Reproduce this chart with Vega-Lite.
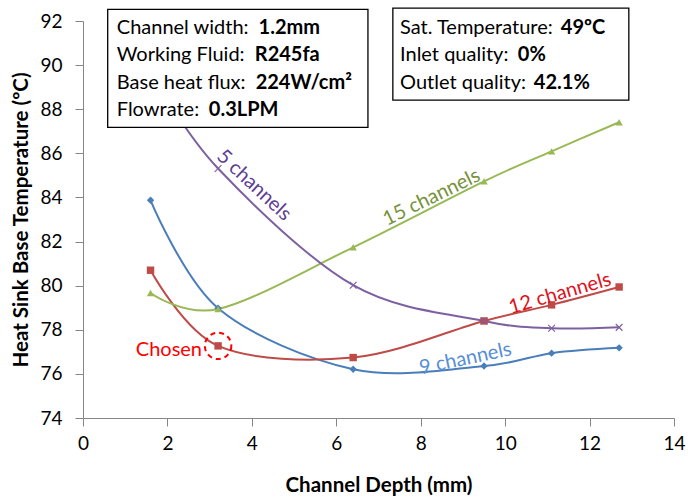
{
  "$schema": "https://vega.github.io/schema/vega-lite/v6.json",
  "autosize": {"type": "none"},
  "padding": {"left": 83, "top": 21, "right": 14, "bottom": 83},
  "width": 591,
  "height": 397,
  "background": "white",
  "config": {
    "view": {"stroke": null},
    "font": "Lato",
    "axis": {
      "grid": false,
      "labelFlush": false,
      "domainColor": "#868686",
      "tickColor": "#868686",
      "tickSize": 8,
      "labelColor": "#000000",
      "labelFont": "Lato",
      "labelFontSize": 19,
      "titleFont": "Lato",
      "titleFontSize": 20.5,
      "titleFontWeight": "bold",
      "titleColor": "#000000"
    }
  },
  "datasets": {
    "series": [
      {"series": "9 channels", "depth": 1.6, "temp": 83.87},
      {"series": "9 channels", "depth": 3.2, "temp": 78.98},
      {"series": "9 channels", "depth": 6.4, "temp": 76.21},
      {"series": "9 channels", "depth": 9.5, "temp": 76.36},
      {"series": "9 channels", "depth": 11.1, "temp": 76.94},
      {"series": "9 channels", "depth": 12.7, "temp": 77.18},
      {"series": "12 channels", "depth": 1.6, "temp": 80.70},
      {"series": "12 channels", "depth": 3.2, "temp": 77.27},
      {"series": "12 channels", "depth": 6.4, "temp": 76.74},
      {"series": "12 channels", "depth": 9.5, "temp": 78.40},
      {"series": "12 channels", "depth": 11.1, "temp": 79.13},
      {"series": "12 channels", "depth": 12.7, "temp": 79.94},
      {"series": "15 channels", "depth": 1.6, "temp": 79.67},
      {"series": "15 channels", "depth": 3.2, "temp": 78.94},
      {"series": "15 channels", "depth": 6.4, "temp": 81.74},
      {"series": "15 channels", "depth": 9.5, "temp": 84.73},
      {"series": "15 channels", "depth": 11.1, "temp": 86.09},
      {"series": "15 channels", "depth": 12.7, "temp": 87.41},
      {"series": "5 channels", "depth": 1.6, "temp": 89.7},
      {"series": "5 channels", "depth": 3.2, "temp": 85.31},
      {"series": "5 channels", "depth": 6.4, "temp": 80.02},
      {"series": "5 channels", "depth": 9.5, "temp": 78.40},
      {"series": "5 channels", "depth": 11.1, "temp": 78.07},
      {"series": "5 channels", "depth": 12.7, "temp": 78.11}
    ],
    "boxes": [
      {"x1": 0.585, "x2": 6.75, "y1": 92.53, "y2": 87.18},
      {"x1": 7.34, "x2": 12.93, "y1": 92.58, "y2": 88.41}
    ],
    "boxRegular": [
      {"x": 0.8, "y": 91.67, "t": "Channel width:"},
      {"x": 0.8, "y": 90.45, "t": "Working Fluid:"},
      {"x": 0.8, "y": 89.18, "t": "Base heat flux:"},
      {"x": 0.8, "y": 87.95, "t": "Flowrate:"},
      {"x": 7.51, "y": 91.67, "t": "Sat. Temperature:"},
      {"x": 7.51, "y": 90.45, "t": "Inlet quality:"},
      {"x": 7.51, "y": 89.18, "t": "Outlet quality:"}
    ],
    "boxBold": [
      {"x": 4.16, "y": 91.67, "t": "1.2mm"},
      {"x": 4.07, "y": 90.45, "t": "R245fa"},
      {"x": 4.09, "y": 89.18, "t": "224W/cm²"},
      {"x": 2.98, "y": 87.95, "t": "0.3LPM"},
      {"x": 11.32, "y": 91.67, "t": "49ºC"},
      {"x": 10.3, "y": 90.45, "t": "0%"},
      {"x": 10.68, "y": 89.18, "t": "42.1%"}
    ]
  },
  "layer": [
    {
      "data": {"name": "series"},
      "mark": {"type": "line", "interpolate": "cardinal", "strokeWidth": 2},
      "encoding": {
        "x": {"field": "depth", "type": "quantitative",
              "scale": {"domain": [0, 14], "nice": false},
              "axis": {"values": [0, 2, 4, 6, 8, 10, 12, 14], "title": "Channel Depth (mm)", "labelPadding": 8, "titlePadding": 22}},
        "y": {"field": "temp", "type": "quantitative",
              "scale": {"domain": [74, 92], "nice": false, "zero": false},
              "axis": {"values": [74, 76, 78, 80, 82, 84, 86, 88, 90, 92], "title": "Heat Sink Base Temperature (ºC)", "labelPadding": 13, "titlePadding": 8}},
        "color": {"field": "series", "type": "nominal", "legend": null,
                  "scale": {"domain": ["9 channels", "12 channels", "15 channels", "5 channels"],
                            "range": ["#4A7EBB", "#BE4B48", "#98B954", "#7D60A0"]}},
        "detail": {"field": "series"}
      }
    },
    {
      "data": {"name": "series"},
      "transform": [{"filter": "datum.series !== '5 channels'"}],
      "mark": {"type": "point", "filled": true, "opacity": 1, "size": 55},
      "encoding": {
        "x": {"field": "depth", "type": "quantitative"},
        "y": {"field": "temp", "type": "quantitative"},
        "color": {"field": "series", "type": "nominal", "legend": null},
        "shape": {"field": "series", "type": "nominal", "legend": null,
                  "scale": {"domain": ["9 channels", "12 channels", "15 channels"],
                            "range": ["diamond", "square", "triangle-up"]}}
      }
    },
    {
      "data": {"name": "series"},
      "transform": [{"filter": "datum.series === '5 channels'"}],
      "mark": {"type": "point", "filled": false, "opacity": 1, "size": 45, "strokeWidth": 1.2,
               "shape": "M-1,-1L1,1M-1,1L1,-1", "color": "#7D60A0"},
      "encoding": {
        "x": {"field": "depth", "type": "quantitative"},
        "y": {"field": "temp", "type": "quantitative"}
      }
    },
    {
      "data": {"values": [{"depth": 3.2, "temp": 77.27}]},
      "mark": {"type": "point", "shape": "circle", "filled": false, "size": 700,
               "stroke": "#FF0000", "strokeWidth": 2, "strokeDash": [5, 4], "opacity": 1},
      "encoding": {
        "x": {"field": "depth", "type": "quantitative"},
        "y": {"field": "temp", "type": "quantitative"}
      }
    },
    {
      "data": {"name": "boxes"},
      "mark": {"type": "rect", "fill": "white", "stroke": "#000000", "strokeWidth": 1.3},
      "encoding": {
        "x": {"field": "x1", "type": "quantitative"},
        "x2": {"field": "x2"},
        "y": {"field": "y1", "type": "quantitative"},
        "y2": {"field": "y2"}
      }
    },
    {
      "data": {"name": "boxRegular"},
      "mark": {"type": "text", "align": "left", "baseline": "middle", "font": "Lato", "fontSize": 20, "color": "#000000"},
      "encoding": {
        "x": {"field": "x", "type": "quantitative"},
        "y": {"field": "y", "type": "quantitative"},
        "text": {"field": "t"}
      }
    },
    {
      "data": {"name": "boxBold"},
      "mark": {"type": "text", "align": "left", "baseline": "middle", "font": "Lato", "fontSize": 20, "fontWeight": "bold", "color": "#000000"},
      "encoding": {
        "x": {"field": "x", "type": "quantitative"},
        "y": {"field": "y", "type": "quantitative"},
        "text": {"field": "t"}
      }
    },
    {
      "data": {"values": [{"x": 2.82, "y": 77.1, "t": "Chosen"}]},
      "mark": {"type": "text", "align": "right", "baseline": "middle", "font": "Lato", "fontSize": 20, "color": "#FF0000"},
      "encoding": {
        "x": {"field": "x", "type": "quantitative"},
        "y": {"field": "y", "type": "quantitative"},
        "text": {"field": "t"}
      }
    },
    {
      "data": {"values": [{"x": 4.05, "y": 84.55, "t": "5 channels"}]},
      "mark": {"type": "text", "align": "center", "baseline": "middle", "font": "Lato", "fontSize": 20, "color": "#5F3F94", "angle": 43},
      "encoding": {
        "x": {"field": "x", "type": "quantitative"},
        "y": {"field": "y", "type": "quantitative"},
        "text": {"field": "t"}
      }
    },
    {
      "data": {"values": [{"x": 8.26, "y": 84.0, "t": "15 channels"}]},
      "mark": {"type": "text", "align": "center", "baseline": "middle", "font": "Lato", "fontSize": 20, "color": "#76923C", "angle": -26},
      "encoding": {
        "x": {"field": "x", "type": "quantitative"},
        "y": {"field": "y", "type": "quantitative"},
        "text": {"field": "t"}
      }
    },
    {
      "data": {"values": [{"x": 11.3, "y": 79.64, "t": "12 channels"}]},
      "mark": {"type": "text", "align": "center", "baseline": "middle", "font": "Lato", "fontSize": 20, "color": "#E0101A", "angle": -16},
      "encoding": {
        "x": {"field": "x", "type": "quantitative"},
        "y": {"field": "y", "type": "quantitative"},
        "text": {"field": "t"}
      }
    },
    {
      "data": {"values": [{"x": 9.06, "y": 76.68, "t": "9 channels"}]},
      "mark": {"type": "text", "align": "center", "baseline": "middle", "font": "Lato", "fontSize": 20, "color": "#558ED5", "angle": -12},
      "encoding": {
        "x": {"field": "x", "type": "quantitative"},
        "y": {"field": "y", "type": "quantitative"},
        "text": {"field": "t"}
      }
    }
  ]
}
